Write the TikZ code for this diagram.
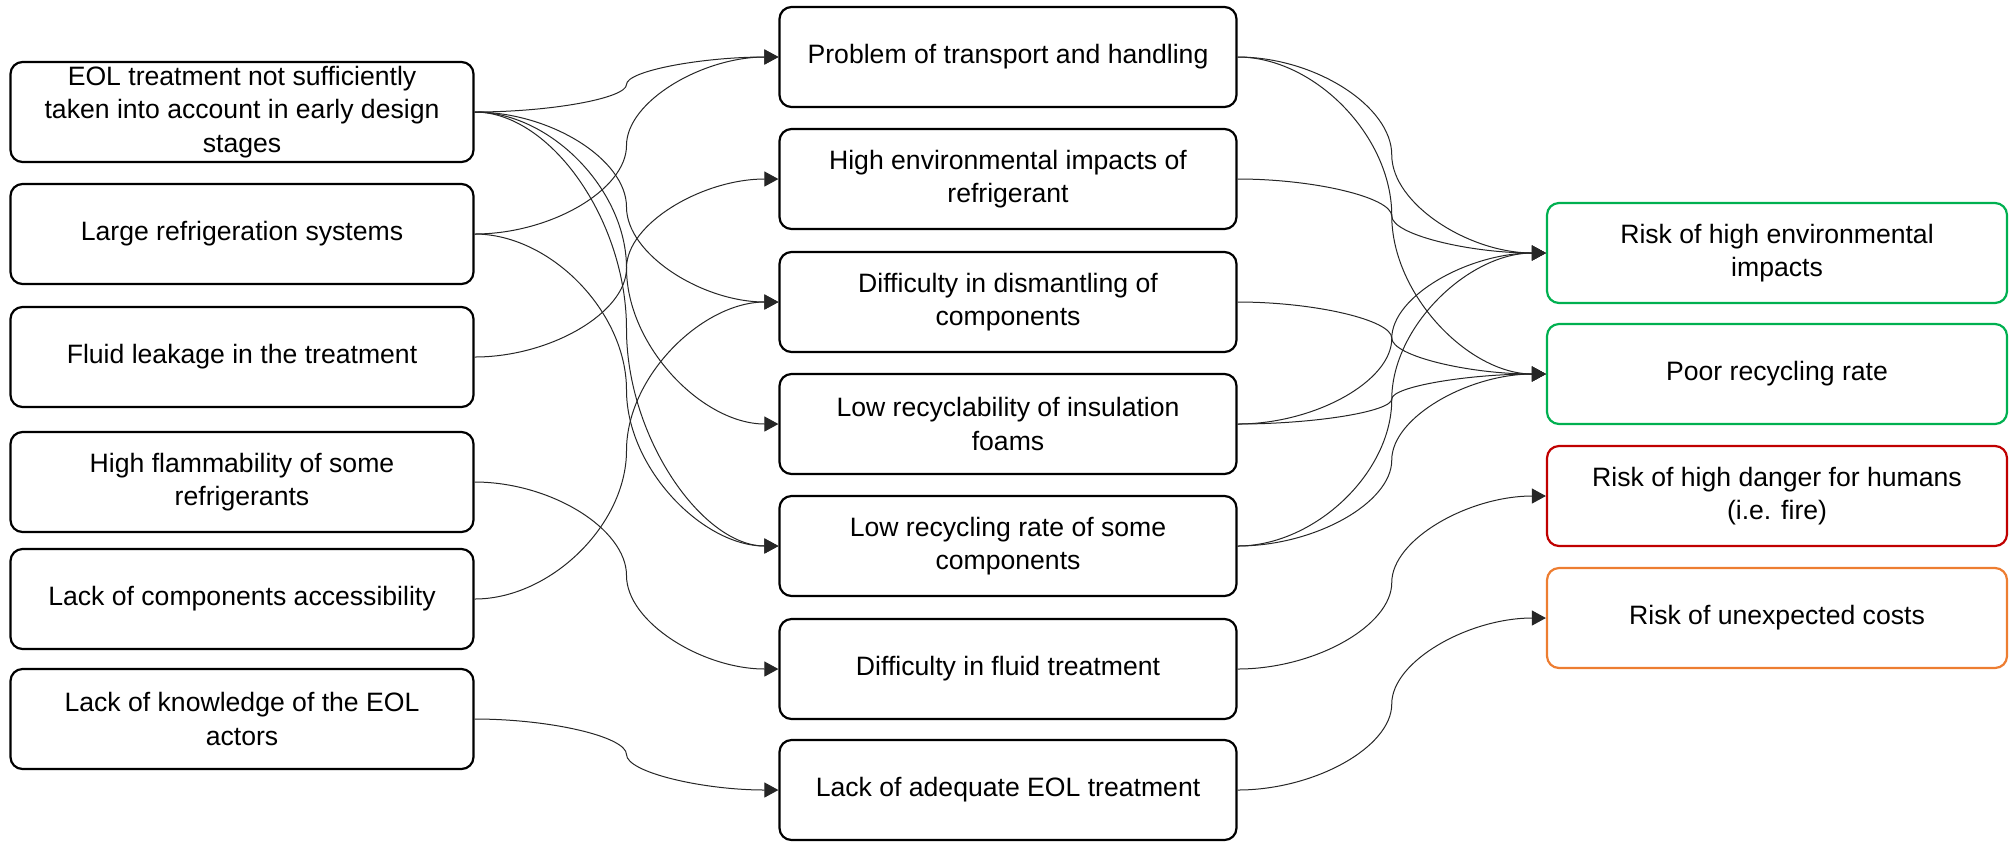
\documentclass[tikz,border=0pt]{standalone}
\usepackage{fontspec}
\setmainfont{Liberation Sans}
\usetikzlibrary{arrows.meta,calc}
\definecolor{rgreen}{HTML}{00B050}
\definecolor{rred}{HTML}{C00000}
\definecolor{rorange}{HTML}{ED7D31}
\tikzset{
  box/.style={draw, rounded corners=6pt, line width=1.1pt, align=center,
    minimum height=50pt, inner sep=2pt, font=\fontsize{13.3}{16.8}\selectfont},
  lbox/.style={box, minimum width=231.5pt},
  mbox/.style={box, minimum width=228.5pt},
  rbox/.style={box, minimum width=230pt},
  link/.style={draw=black!85, line width=0.5pt, -{Triangle[length=7pt,width=7.5pt]}},
  cc/.style={to path={let \p1=(\tikztostart), \p2=(\tikztotarget) in
    .. controls ({0.75*\x1+0.25*\x2},\y1) and ({0.5*\x1+0.5*\x2},{0.75*\y1+0.25*\y2})
    .. ({0.5*\x1+0.5*\x2},{0.5*\y1+0.5*\y2})
    .. controls ({0.5*\x1+0.5*\x2},{0.25*\y1+0.75*\y2}) and ({0.25*\x1+0.75*\x2},\y2)
    .. (\x2,\y2) \tikztonodes}}
}
\begin{document}
\begin{tikzpicture}[x=0.5pt,y=-0.5pt]
\useasboundingbox (0,0) rectangle (2012,843);
% left column
\node[lbox] (l1) at (242,112) {EOL treatment not sufficiently\\taken into account in early design\\stages};
\node[lbox] (l2) at (242,234) {Large refrigeration systems};
\node[lbox] (l3) at (242,357) {Fluid leakage in the treatment};
\node[lbox] (l4) at (242,482) {High flammability of some\\refrigerants};
\node[lbox] (l5) at (242,599) {Lack of components accessibility};
\node[lbox] (l6) at (242,719) {Lack of knowledge of the EOL\\actors};
% middle column
\node[mbox] (m1) at (1008,57) {Problem of transport and handling};
\node[mbox] (m2) at (1008,179) {High environmental impacts of\\refrigerant};
\node[mbox] (m3) at (1008,302) {Difficulty in dismantling of\\components};
\node[mbox] (m4) at (1008,424) {Low recyclability of insulation\\foams};
\node[mbox] (m5) at (1008,546) {Low recycling rate of some\\components};
\node[mbox] (m6) at (1008,669) {Difficulty in fluid treatment};
\node[mbox] (m7) at (1008,790) {Lack of adequate EOL treatment};
% right column
\node[rbox, draw=rgreen] (r1) at (1777,253) {Risk of high environmental\\impacts};
\node[rbox, draw=rgreen] (r2) at (1777,374) {Poor recycling rate};
\node[rbox, draw=rred] (r3) at (1777,496) {Risk of high danger for humans\\(i.e. fire)};
\node[rbox, draw=rorange] (r4) at (1777,618) {Risk of unexpected costs};
% left -> middle
\draw[link] (l1.east) to[cc] (m1.west);
\draw[link] (l1.east) to[cc] (m3.west);
\draw[link] (l1.east) to[cc] (m4.west);
\draw[link] (l1.east) to[cc] (m5.west);
\draw[link] (l2.east) to[cc] (m1.west);
\draw[link] (l2.east) to[cc] (m5.west);
\draw[link] (l3.east) to[cc] (m2.west);
\draw[link] (l4.east) to[cc] (m6.west);
\draw[link] (l5.east) to[cc] (m3.west);
\draw[link] (l6.east) to[cc] (m7.west);
% middle -> right
\draw[link] (m1.east) to[cc] (r1.west);
\draw[link] (m1.east) to[cc] (r2.west);
\draw[link] (m2.east) to[cc] (r1.west);
\draw[link] (m3.east) to[cc] (r2.west);
\draw[link] (m4.east) to[cc] (r1.west);
\draw[link] (m4.east) to[cc] (r2.west);
\draw[link] (m5.east) to[cc] (r1.west);
\draw[link] (m5.east) to[cc] (r2.west);
\draw[link] (m6.east) to[cc] (r3.west);
\draw[link] (m7.east) to[cc] (r4.west);
\end{tikzpicture}
\end{document}
